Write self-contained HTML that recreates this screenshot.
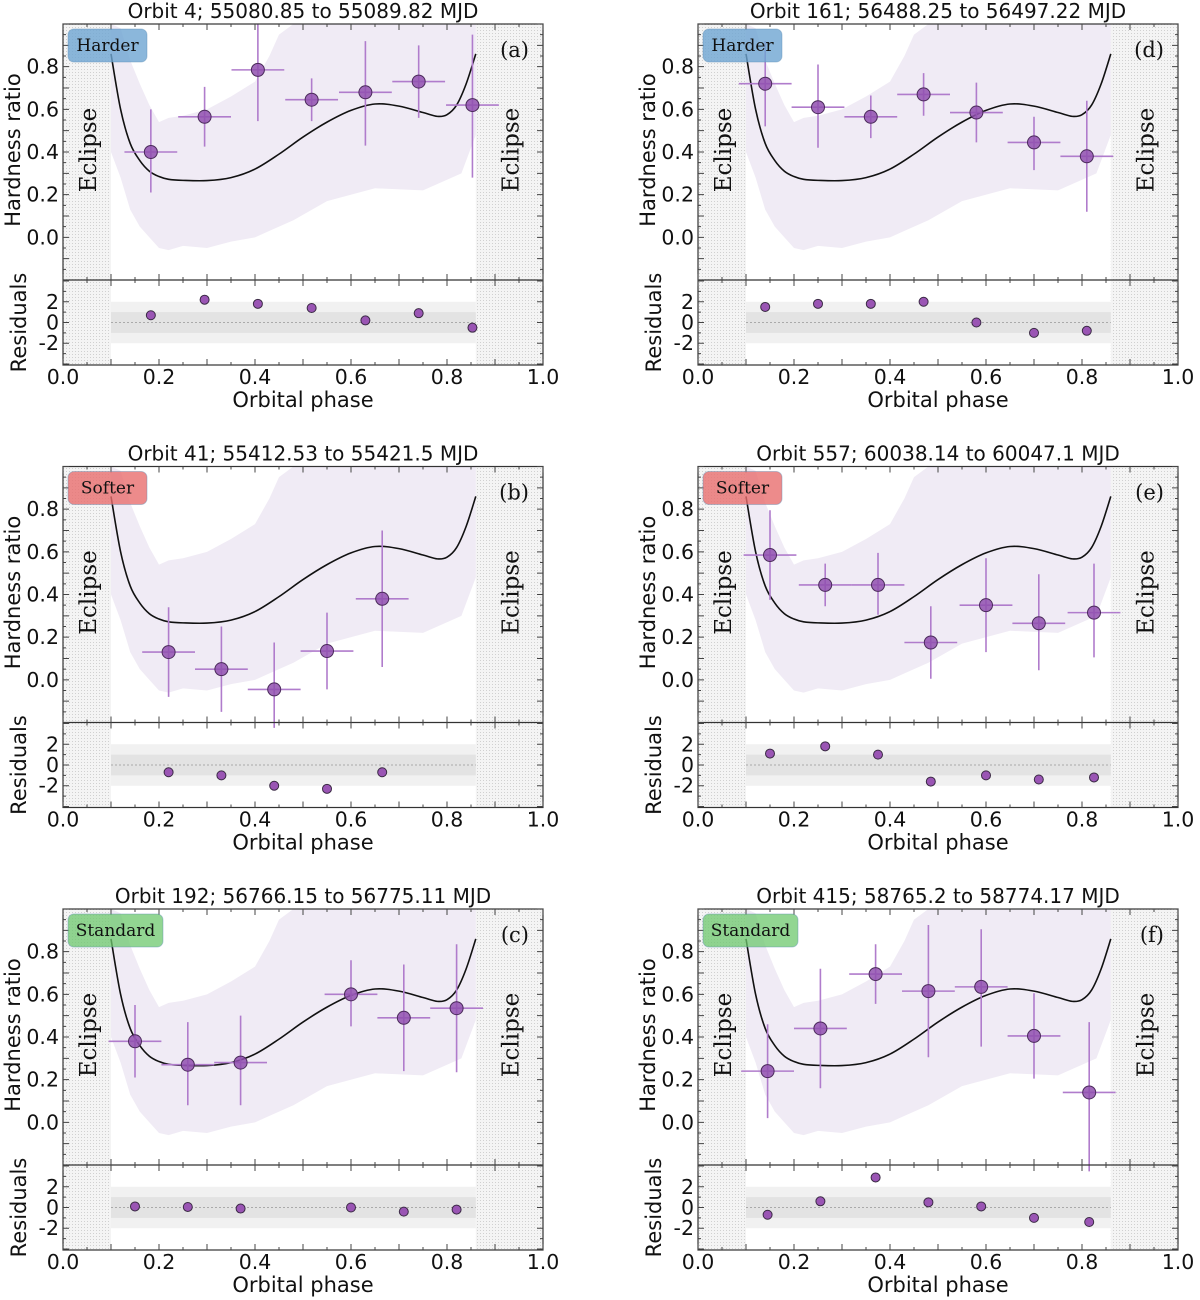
<!DOCTYPE html>
<html><head><meta charset="utf-8">
<style>
html,body{margin:0;padding:0;background:#fff;}
svg{display:block;}
text{font-family:"DejaVu Sans","Liberation Sans",sans-serif;}
.serif{font-family:"DejaVu Serif","Liberation Serif",serif;}
</style></head>
<body>
<svg id="fig" width="1200" height="1300" viewBox="0 0 1200 1300" xmlns="http://www.w3.org/2000/svg">
<defs>
<pattern id="dots" width="3" height="3" patternUnits="userSpaceOnUse">
<rect width="3" height="3" fill="#f4f4f4"/><rect width="1" height="1" fill="#d0d0d0"/>
</pattern>
</defs>
</svg>
<script>
// shared model curve (phase, hardness ratio)
const modelPhase = [0.10,0.12,0.14,0.16,0.18,0.20,0.22,0.25,0.30,0.35,0.40,0.45,0.50,0.55,0.60,0.65,0.70,0.75,0.78,0.80,0.82,0.84,0.86];
const modelHR    = [0.86,0.60,0.44,0.36,0.31,0.285,0.272,0.267,0.266,0.28,0.32,0.39,0.47,0.54,0.595,0.625,0.615,0.585,0.567,0.575,0.62,0.72,0.86];
// shared envelope
const bandPhase = [0.10,0.12,0.14,0.16,0.18,0.20,0.22,0.25,0.30,0.35,0.40,0.43,0.45,0.48,0.55,0.65,0.75,0.83,0.86];
const bandUpper = [1.0,0.98,0.83,0.72,0.62,0.54,0.56,0.57,0.60,0.66,0.73,0.85,0.95,1.0,1.0,1.0,1.0,1.0,1.0];
const bandLower = [0.40,0.28,0.13,0.05,0.0,-0.05,-0.06,-0.04,-0.05,-0.02,0.0,0.03,0.05,0.08,0.17,0.23,0.22,0.30,0.48];

const titles = ["Orbit 4; 55080.85 to 55089.82 MJD","Orbit 161; 56488.25 to 56497.22 MJD","Orbit 41; 55412.53 to 55421.5 MJD","Orbit 557; 60038.14 to 60047.1 MJD","Orbit 192; 56766.15 to 56775.11 MJD","Orbit 415; 58765.2 to 58774.17 MJD"];
const letters = ["(a)","(d)","(b)","(e)","(c)","(f)"];
const badges = ["Harder","Harder","Softer","Softer","Standard","Standard"];

const phaseA=[0.183,0.295,0.406,0.518,0.63,0.741,0.853];
const hrA=[0.40,0.565,0.785,0.645,0.68,0.73,0.62];
const errUpA=[0.2,0.14,0.22,0.1,0.24,0.17,0.33];
const errDnA=[0.19,0.14,0.24,0.1,0.25,0.17,0.34];
const resA=[0.7,2.2,1.8,1.4,0.2,0.9,-0.5];

const phaseD=[0.14,0.25,0.36,0.47,0.58,0.70,0.81];
const hrD=[0.72,0.61,0.565,0.67,0.585,0.445,0.38];
const errUpD=[0.2,0.2,0.1,0.1,0.14,0.12,0.26];
const errDnD=[0.2,0.19,0.1,0.1,0.14,0.13,0.26];
const resD=[1.5,1.8,1.8,2.0,0.0,-1.0,-0.8];

const phaseB=[0.22,0.33,0.44,0.55,0.665];
const hrB=[0.13,0.05,-0.045,0.135,0.38];
const errUpB=[0.21,0.2,0.22,0.18,0.32];
const errDnB=[0.21,0.2,0.18,0.18,0.32];
const resB=[-0.7,-1.0,-2.0,-2.3,-0.7];

const phaseE=[0.15,0.265,0.375,0.485,0.60,0.71,0.825];
const hrE=[0.585,0.445,0.445,0.175,0.35,0.265,0.315];
const errUpE=[0.21,0.1,0.15,0.17,0.22,0.23,0.23];
const errDnE=[0.21,0.1,0.14,0.17,0.22,0.22,0.21];
const resE=[1.1,1.8,1.0,-1.6,-1.0,-1.4,-1.2];

const phaseC=[0.15,0.26,0.37,0.60,0.71,0.82];
const hrC=[0.38,0.27,0.28,0.60,0.49,0.535];
const errUpC=[0.17,0.2,0.22,0.16,0.25,0.3];
const errDnC=[0.17,0.19,0.2,0.15,0.25,0.3];
const resC=[0.1,0.05,-0.1,0.0,-0.4,-0.2];

const phaseF=[0.145,0.255,0.37,0.48,0.59,0.70,0.815];
const hrF=[0.24,0.44,0.695,0.615,0.635,0.405,0.14];
const errUpF=[0.22,0.28,0.14,0.31,0.27,0.2,0.33];
const errDnF=[0.22,0.28,0.14,0.31,0.28,0.2,0.37];
const resF=[-0.7,0.6,2.9,0.5,0.1,-1.0,-1.4];

const panels=[
 {p:phaseA,h:hrA,u:errUpA,d:errDnA,r:resA},
 {p:phaseD,h:hrD,u:errUpD,d:errDnD,r:resD},
 {p:phaseB,h:hrB,u:errUpB,d:errDnB,r:resB},
 {p:phaseE,h:hrE,u:errUpE,d:errDnE,r:resE},
 {p:phaseC,h:hrC,u:errUpC,d:errDnC,r:resC},
 {p:phaseF,h:hrF,u:errUpF,d:errDnF,r:resF}];
const xTicks=[0.0,0.2,0.4,0.6,0.8,1.0];
const yTicks=[0.0,0.2,0.4,0.6,0.8];
const rTicks=[-2,0,2];
const badgeColors={Harder:"rgba(110,165,210,0.8)",Softer:"rgba(232,110,110,0.8)",Standard:"rgba(110,200,110,0.75)"};
const xErr=0.055;

const NS="http://www.w3.org/2000/svg";
const svg=document.getElementById('fig');
function el(tag,attrs,parent){const e=document.createElementNS(NS,tag);for(const k in attrs)e.setAttribute(k,attrs[k]);(parent||svg).appendChild(e);return e;}
function smooth(pts){let d="M"+pts[0][0]+","+pts[0][1];for(let i=0;i<pts.length-1;i++){const p0=pts[Math.max(0,i-1)],p1=pts[i],p2=pts[i+1],p3=pts[Math.min(pts.length-1,i+2)];const c1=[p1[0]+(p2[0]-p0[0])/6,p1[1]+(p2[1]-p0[1])/6],c2=[p2[0]-(p3[0]-p1[0])/6,p2[1]-(p3[1]-p1[1])/6];d+=" C"+c1[0]+","+c1[1]+" "+c2[0]+","+c2[1]+" "+p2[0]+","+p2[1];}return d;}

panels.forEach((pd,idx)=>{
 const col=idx%2,row=Math.floor(idx/2);
 const L=63+col*635,R=L+480,T=24+row*442.5,M=T+256,B=T+341;
 const X=v=>L+v*480;
 const Y=v=>M-(v+0.2)/1.2*256;
 const RY=v=>(M+B)/2-v*(85/8.2);
 const g=el('g',{});
 
 
 [[0,0.1],[0.86,1.0]].forEach((e,k)=>{const r=el('rect',{x:X(e[0]),y:T,width:X(e[1])-X(e[0]),height:B-T,fill:'url(#dots)'},g);
  
  });
 let bp=bandPhase.map((p,i)=>X(p)+","+Y(bandUpper[i])).join(" ")+" "+bandPhase.slice().reverse().map((p,i)=>X(p)+","+Y(bandLower[bandPhase.length-1-i])).join(" ");
 const band=el('polygon',{points:bp,fill:'#f0ebf5'},g);
 
 
 const rb2=el('rect',{x:X(0.1),y:RY(2),width:X(0.86)-X(0.1),height:RY(-2)-RY(2),fill:'#f1f1f1'},g);
 
 
 const rb1=el('rect',{x:X(0.1),y:RY(1),width:X(0.86)-X(0.1),height:RY(-1)-RY(1),fill:'#e3e3e3'},g);
 
 
 const zl=el('line',{x1:X(0.1),x2:X(0.86),y1:RY(0),y2:RY(0),stroke:'#aaa','stroke-width':1,'stroke-dasharray':'2,2'},g);
 
 
 const mc=el('path',{d:smooth(modelPhase.map((p,i)=>[X(p),Y(modelHR[i])])),fill:'none',stroke:'#111','stroke-width':1.6},g);
 
 
 pd.p.forEach((p,i)=>{
  const eb=el('path',{d:`M${X(p-xErr)},${Y(pd.h[i])}H${X(p+xErr)}M${X(p)},${Math.max(T,Y(pd.h[i]+pd.u[i]))}V${Y(pd.h[i]-pd.d[i])}`,stroke:'#b07ccc','stroke-width':1.6,fill:'none'},g);
  
  
  const c=el('circle',{cx:X(p),cy:Y(pd.h[i]),r:6.5,fill:'rgba(145,80,175,0.85)',stroke:'#4a2a5a','stroke-width':1},g);
  
  
  const rc=el('circle',{cx:X(p),cy:RY(pd.r[i]),r:4.5,fill:'#9a55b4',stroke:'#3a2a44','stroke-width':1},g);
  
  
 });
 const fr=el('rect',{x:L,y:T,width:480,height:B-T,fill:'none',stroke:'#333','stroke-width':1.2},g);
 
 
 el('line',{x1:L,x2:R,y1:M,y2:M,stroke:'#333','stroke-width':1.2},g);
 let td="";
 for(let k=0;k<=20;k++){const x=X(k*0.05),len=k%2?3:6;td+=`M${x},${T}v${len}M${x},${M}v${-len}M${x},${M}v${len}M${x},${B}v${-len}`;}
 for(let k=-4;k<=20;k++){const v=k*0.05;const y=Y(v);if(y<T-0.5)continue;const len=k%2?3:6;td+=`M${L},${y}h${len}M${R},${y}h${-len}`;}
 for(let k=-4;k<=4;k++){const y=RY(k);const len=k%2?3:6;td+=`M${L},${y}h${len}M${R},${y}h${-len}`;}
 el('path',{d:td,stroke:'#444','stroke-width':1,fill:'none'},g);
 xTicks.forEach(v=>{const t=el('text',{x:X(v),y:B+19,'font-size':20.5,'text-anchor':'middle',fill:'#111'},g);t.textContent=v.toFixed(1);
  
  });
 yTicks.forEach(v=>{const t=el('text',{x:L-4,y:Y(v)+7,'font-size':20.5,'text-anchor':'end',fill:'#111'},g);t.textContent=v.toFixed(1);
  
  });
 rTicks.forEach(v=>{const t=el('text',{x:L-4,y:RY(v)+7,'font-size':20.5,'text-anchor':'end',fill:'#111'},g);t.textContent=String(v);
  
  });
 const tt=el('text',{x:L+240,y:T-6,'font-size':20,'text-anchor':'middle',fill:'#111'},g);tt.textContent=titles[idx];
 
 
 const xl=el('text',{x:L+240,y:B+42,'font-size':21,'text-anchor':'middle',fill:'#111'},g);xl.textContent="Orbital phase";
 
 
 const yl=el('text',{x:0,y:0,'font-size':21,'text-anchor':'middle',fill:'#111',transform:`translate(${L-43},${(T+M)/2-2}) rotate(-90)`},g);yl.textContent="Hardness ratio";
 
 
 const rl=el('text',{x:0,y:0,'font-size':21,'text-anchor':'middle',fill:'#111',transform:`translate(${L-37},${(M+B)/2}) rotate(-90)`},g);rl.textContent="Residuals";
 
 
 [X(0.05)+9,X(0.93)+9].forEach(x=>{const e=el('text',{x:0,y:0,'font-size':23,'text-anchor':'middle',fill:'#111',class:'serif',transform:`translate(${x},${T+126}) rotate(-90)`},g);e.textContent="Eclipse";
  
  });
 const lt=el('text',{x:R-14,y:T+33,'font-size':21,'text-anchor':'end',fill:'#111',class:'serif'},g);lt.textContent=letters[idx];
 
 
 const bw=badges[idx]==="Standard"?95:79;
 const br=el('rect',{x:L+5,y:T+5,width:bw,height:33,rx:6,fill:badgeColors[badges[idx]],stroke:'rgba(90,140,180,0.4)','stroke-width':1},g);
 
 
 const bt=el('text',{x:L+5+bw/2,y:T+27,'font-size':17,'text-anchor':'middle',fill:'#111',class:'serif'},g);bt.textContent=badges[idx];
 
 
});
</script>
</body></html>
